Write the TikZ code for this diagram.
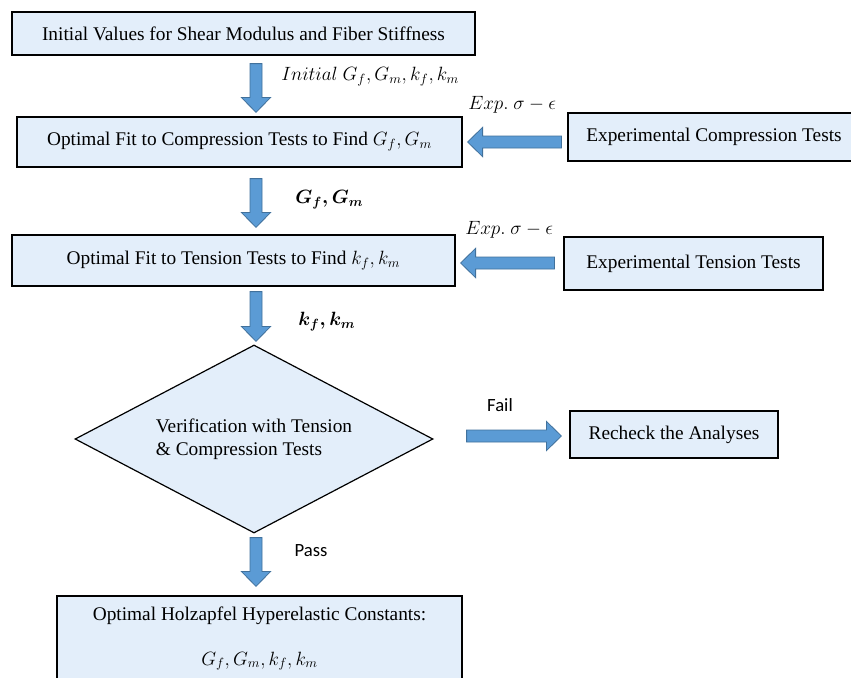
\documentclass[tikz,border=0pt]{standalone}
\usepackage{fontspec}
\usepackage{amsmath}
\setmainfont{Liberation Serif}
\newfontfamily\calibri{Carlito}
\usetikzlibrary{shapes.geometric,calc}

\definecolor{boxfill}{HTML}{E3EEFA}
\definecolor{arrfill}{HTML}{5B9BD5}
\definecolor{arredge}{HTML}{41719C}

\tikzset{
  stepbox/.style={draw, fill=boxfill, line width=0.9pt, inner sep=0pt},
  decision/.style={diamond, draw, fill=boxfill, line width=0.9pt, inner sep=0pt,
    aspect=1.9, align=left, minimum width=268.5pt, minimum height=141pt},
  flowlabel/.style={inner sep=0pt},
  sanslabel/.style={inner sep=0pt, font=\calibri\fontsize{14}{16}\selectfont},
  blockarr/.style={fill=arrfill, draw=arredge, line width=0.6pt},
}

% block arrow from #1 to #2 (tip at #2)
\newcommand{\blockarrow}[2]{%
  \draw[blockarr] ($(#1)!4.5pt!90:(#2)$)
    -- ($(#2)!11.25pt!(#1)!4.5pt!-90:(#1)$)
    -- ($(#2)!11.25pt!(#1)!11pt!-90:(#1)$)
    -- (#2)
    -- ($(#2)!11.25pt!(#1)!11pt!90:(#1)$)
    -- ($(#2)!11.25pt!(#1)!4.5pt!90:(#1)$)
    -- ($(#1)!4.5pt!-90:(#2)$) -- cycle;}

\begin{document}
\begin{tikzpicture}[x=0.75pt, y=-0.75pt, font=\fontsize{14.5}{17.25}\selectfont]
    \useasboundingbox[fill=white] (0,0) rectangle (851,678);

    % boxes
    \node[stepbox, minimum width=347.25pt, minimum height=32.25pt] (init) at (243.5,33.5)
        {Initial Values for Shear Modulus and Fiber Stiffness};
    \node[stepbox, minimum width=333.75pt, minimum height=37.5pt] (fitcomp) at (239.5,142)
        {Optimal Fit to Compression Tests to Find $G_f, G_m$};
    \node[stepbox, minimum width=219pt, minimum height=36pt] (expcomp) at (714,137)
        {Experimental Compression Tests};
    \node[stepbox, minimum width=332.25pt, minimum height=38.25pt] (fittens) at (233.5,260.5)
        {Optimal Fit to Tension Tests to Find $k_f, k_m$};
    \node[stepbox, minimum width=194.25pt, minimum height=39.75pt] (exptens) at (693.5,263.5)
        {Experimental Tension Tests};
    \node[decision] (verify) at (254,439)
        {Verification with Tension\\\& Compression Tests};
    \node[stepbox, minimum width=156pt, minimum height=35.25pt] (recheck) at (674,434.5)
        {Recheck the Analyses};
    \node[stepbox, minimum width=303.75pt, minimum height=63.75pt, align=center] (result) at (259.5,638.5)
        {Optimal Holzapfel Hyperelastic Constants:\\[16.5pt]$G_f, G_m, k_f, k_m$};

    % arrow ends
    \coordinate (col) at (256,0);
    \coordinate (a1s) at ($(init.south -| col)+(0,8)$);
    \coordinate (a1e) at ($(fitcomp.north -| col)+(0,-4)$);
    \coordinate (a2s) at ($(fitcomp.south -| col)+(0,11)$);
    \coordinate (a2e) at ($(fittens.north -| col)+(0,-7)$);
    \coordinate (a3s) at ($(fittens.south -| col)+(0,5)$);
    \coordinate (a3e) at ($(verify.north -| col)+(0,-3)$);
    \coordinate (a4s) at ($(verify.south -| col)+(0,4)$);
    \coordinate (a4e) at ($(result.north -| col)+(0,-9)$);
    \coordinate (h1s) at ($(expcomp.west)+(-6,5)$);
    \coordinate (h1e) at ($(fitcomp.east)+(5,0)$);
    \coordinate (h2s) at ($(exptens.west)+(-9,-0.5)$);
    \coordinate (h2e) at ($(fittens.east)+(5,2.5)$);
    \coordinate (h3s) at ($(verify.east)+(33,-3)$);
    \coordinate (h3e) at ($(recheck.west)+(-8,1.5)$);

    % block arrows
    \blockarrow{a1s}{a1e}
    \blockarrow{a2s}{a2e}
    \blockarrow{a3s}{a3e}
    \blockarrow{a4s}{a4e}
    \blockarrow{h1s}{h1e}
    \blockarrow{h2s}{h2e}
    \blockarrow{h3s}{h3e}

    % labels
    \node[flowlabel, anchor=west] (lblinit) at (281,77) {$Initial\ G_f, G_m, k_f, k_m$};
    \node[flowlabel, anchor=west] (lblexpc) at (468,105) {$Exp.\ \sigma-\epsilon$};
    \node[flowlabel, anchor=west] (lblgg) at (295,200) {$\boldsymbol{G_f, G_m}$};
    \node[flowlabel, anchor=west] (lblexpt) at (465,230) {$Exp.\ \sigma-\epsilon$};
    \node[flowlabel, anchor=west] (lblkk) at (298,322) {$\boldsymbol{k_f, k_m}$};
    \node[sanslabel] (lblfail) at (500,405) {Fail};
    \node[sanslabel] (lblpass) at (311,551) {Pass};
\end{tikzpicture}
\end{document}
